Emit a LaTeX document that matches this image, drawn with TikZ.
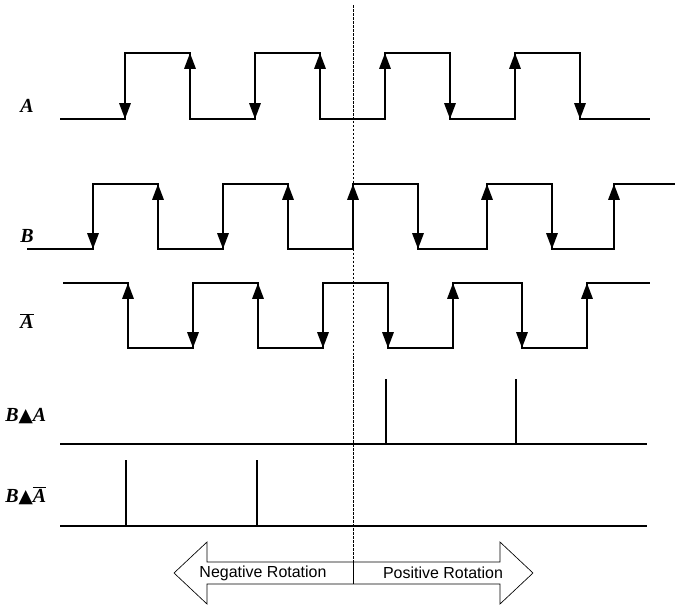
\documentclass[tikz,border=0pt]{standalone}
\usepackage{fontspec}
\setmainfont{Liberation Serif}
\setsansfont{Liberation Sans}
\newfontfamily\symfont{DejaVu Sans}
\usetikzlibrary{arrows.meta}

\begin{document}
\begin{tikzpicture}[
  x=0.0264cm, y=-0.0264cm,
  sig/.style ={line width=1.6pt, line join=miter},
  edge/.style={line width=1.6pt, -{Triangle[length=4.2mm,width=3mm]}},
  lab/.style ={font=\fontsize{15}{17}\selectfont\bfseries\itshape, anchor=west, inner sep=0pt},
  rot/.style ={font=\sffamily\fontsize{12}{14}\selectfont, inner sep=0pt}
]
\useasboundingbox (0,0) rectangle (676,605);
% signal names
\node[lab] (labA)    at (20,106) {A};
\node[lab] (labB)    at (20,236) {B};
\node[lab] (labAbar) at (20,321) {$\overline{\mbox{A}}$};
\node[lab] (labBA)   at (5,416)  {B{\symfont\fontsize{14}{16}\selectfont ▲}A};
\node[lab] (labBAb)  at (5,496)  {B{\symfont\fontsize{14}{16}\selectfont ▲}$\overline{\mbox{A}}$};
% A
\draw[sig] (60,119) -| (125,53) -| (190,119) -| (255,53) -| (320,119) -| (385,53)
  -| (450,119) -| (515,53) -| (580,119) -- (650,119);
\foreach \x in {125,255,450,580} \draw[edge] (\x,53) -- (\x,119);
\foreach \x in {190,320,385,515} \draw[edge] (\x,119) -- (\x,53);
% B
\draw[sig] (27,249) -| (93,184) -| (158,249) -| (223,184) -| (288,249) -| (353,184)
  -| (418,249) -| (487,184) -| (552,249) -| (614,184) -- (675,184);
\foreach \x in {93,223,418,552} \draw[edge] (\x,184) -- (\x,249);
\foreach \x in {158,288,353,487,614} \draw[edge] (\x,249) -- (\x,184);
% A bar
\draw[sig] (63,283) -| (128,348) -| (193,283) -| (258,348) -| (323,283) -| (388,348)
  -| (453,283) -| (522,348) -| (587,283) -- (650,283);
\foreach \x in {193,323,388,522} \draw[edge] (\x,283) -- (\x,348);
\foreach \x in {128,258,453,587} \draw[edge] (\x,348) -- (\x,283);
% pulse trains
\draw[sig] (60,444) -- (647,444);
\foreach \x in {386,516} \draw[sig] (\x,444) -- (\x,379);
\draw[sig] (60,526) -- (647,526);
\foreach \x in {126,257} \draw[sig] (\x,526) -- (\x,460);
% direction change
\draw[line width=0.5pt, dash pattern=on 2pt off 1pt] (353,5) -- (353,562);
\draw[line width=0.5pt, line join=miter] (174,573) -- (207,542) -- (207,562) -- (500,562)
  -- (500,542) -- (533,573) -- (500,604) -- (500,584) -- (207,584) -- (207,604) -- cycle;
\draw[line width=0.5pt] (353,562) -- (353,584);
\node[rot] (neg) at (263,573) {Negative Rotation};
\node[rot] (pos) at (443,573) {Positive Rotation};
\end{tikzpicture}
\end{document}
